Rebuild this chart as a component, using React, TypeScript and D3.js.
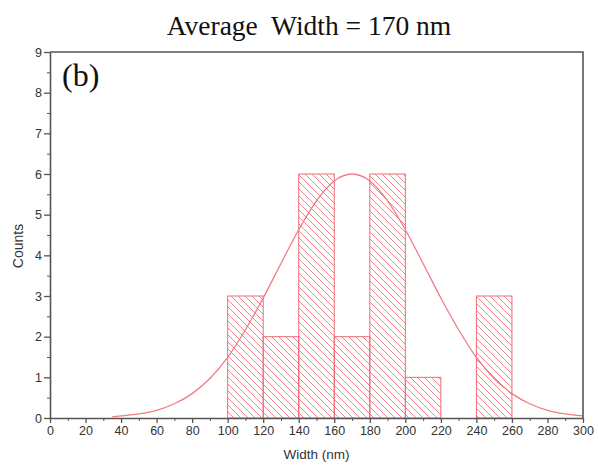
import { useEffect, useRef } from "react";
import * as d3 from "d3";

// histogram bins (nm) and counts
const binStarts = [100, 120, 140, 160, 180, 200, 220, 240];
const binWidth = 20;
const counts = [3, 2, 6, 2, 6, 1, 0, 3];

// fitted curve
const fitX = [35, 40, 50, 60, 70, 80, 90, 100, 110, 120, 130, 140, 150, 160, 170, 180, 190, 200, 210, 220, 230, 240, 250, 260, 270, 280, 290, 300];
const fitY = [0.03, 0.05, 0.1, 0.19, 0.35, 0.6, 0.97, 1.49, 2.17, 2.95, 3.8, 4.63, 5.34, 5.83, 6.0, 5.83, 5.34, 4.63, 3.8, 2.95, 2.17, 1.49, 0.97, 0.6, 0.35, 0.19, 0.1, 0.05];

const xTicks = [0, 20, 40, 60, 80, 100, 120, 140, 160, 180, 200, 220, 240, 260, 280, 300];
const yTicks = [0, 1, 2, 3, 4, 5, 6, 7, 8, 9];

export default function App() {
  const ref = useRef<SVGSVGElement>(null);
  const width = 598;
  const height = 468;

  useEffect(() => {
    if (!ref.current) return;
    const svg = d3.select(ref.current);
    svg.selectAll("*").remove();

    const margin = { top: 52, right: 15, bottom: 50, left: 50 };
    const innerWidth = width - margin.left - margin.right;
    const innerHeight = height - margin.top - margin.bottom;

    const red = "#f06a76";
    const axisColor = "#555";

    // hatch pattern
    const defs = svg.append("defs");
    const pat = defs
      .append("pattern")
      .attr("id", "hatch")
      .attr("patternUnits", "userSpaceOnUse")
      .attr("width", 7)
      .attr("height", 7);
    pat
      .append("path")
      .attr("d", "M0,0 L7,7 M-1,6 L1,8 M6,-1 L8,1")
      .attr("stroke", "#f4858e")
      .attr("stroke-width", 1);

    const g = svg
      .append("g")
      .attr("transform", `translate(${margin.left},${margin.top})`);

    const x = d3.scaleLinear().domain([0, 300]).range([0, innerWidth]);
    const y = d3.scaleLinear().domain([0, 9]).range([innerHeight, 0]);

    // bars
    const data = binStarts.map((b, i) => ({ x0: b, x1: b + binWidth, n: counts[i] }));
    g.selectAll("rect.bar")
      .data(data.filter((d) => d.n > 0))
      .join("rect")
      .attr("class", "bar")
      .attr("x", (d) => x(d.x0))
      .attr("y", (d) => y(d.n))
      .attr("width", (d) => x(d.x1) - x(d.x0))
      .attr("height", (d) => y(0) - y(d.n))
      .attr("fill", "url(#hatch)")
      .attr("stroke", red)
      .attr("stroke-width", 1);

    // fit curve
    const line = d3
      .line<number>()
      .x((d, i) => x(fitX[i]))
      .y((d) => y(d))
      .curve(d3.curveMonotoneX);
    g.append("path")
      .attr("d", line(fitY))
      .attr("fill", "none")
      .attr("stroke", "#f27c84")
      .attr("stroke-width", 1.3);

    // minor ticks
    g.append("g")
      .attr("transform", `translate(0,${innerHeight})`)
      .call(d3.axisBottom(x).tickValues(d3.range(10, 300, 20)).tickSize(3).tickFormat(() => ""))
      .call((s) => s.select(".domain").remove())
      .selectAll("line")
      .attr("stroke", axisColor);
    g.append("g")
      .call(d3.axisLeft(y).tickValues(d3.range(0.5, 9, 1)).tickSize(3).tickFormat(() => ""))
      .call((s) => s.select(".domain").remove())
      .selectAll("line")
      .attr("stroke", axisColor);

    // major axes
    const xa = g
      .append("g")
      .attr("transform", `translate(0,${innerHeight})`)
      .call(d3.axisBottom(x).tickValues(xTicks).tickSize(5).tickSizeOuter(0).tickPadding(3));
    const ya = g
      .append("g")
      .call(d3.axisLeft(y).tickValues(yTicks).tickSize(6).tickSizeOuter(0).tickPadding(2));
    [xa, ya].forEach((a) => {
      a.select(".domain").attr("stroke", axisColor).attr("stroke-width", 1.6);
      a.selectAll(".tick line").attr("stroke", axisColor).attr("stroke-width", 1.3);
      a.selectAll("text")
        .style("font-family", "Arial, 'Liberation Sans', sans-serif")
        .style("font-size", "12.5px")
        .attr("fill", "#333");
    });

    // top and right frame
    g.append("path")
      .attr("d", `M0,0 H${innerWidth} V${innerHeight}`)
      .attr("fill", "none")
      .attr("stroke", axisColor)
      .attr("stroke-width", 1.6);

    // labels
    svg.append("text")
      .attr("x", margin.left + innerWidth / 2)
      .attr("y", 459)
      .attr("text-anchor", "middle")
      .style("font-family", "Arial, 'Liberation Sans', sans-serif")
      .style("font-size", "13.5px")
      .attr("fill", "#333")
      .text("Width (nm)");

    svg.append("text")
      .attr("transform", `translate(23,246) rotate(-90)`)
      .attr("text-anchor", "middle")
      .style("font-family", "Arial, 'Liberation Sans', sans-serif")
      .style("font-size", "14px")
      .attr("fill", "#333")
      .text("Counts");

    svg.append("text")
      .attr("x", 309)
      .attr("y", 35)
      .attr("text-anchor", "middle")
      .style("font-family", "'Liberation Serif', 'Times New Roman', serif")
      .style("font-size", "27.5px")
      .style("white-space", "pre")
      .attr("fill", "#111")
      .text("Average  Width = 170 nm");

    svg.append("text")
      .attr("x", 62)
      .attr("y", 86)
      .style("font-family", "'Liberation Serif', 'Times New Roman', serif")
      .style("font-size", "32px")
      .attr("fill", "#111")
      .text("(b)");
  }, []);

  return (
    <svg
      ref={ref}
      width={width}
      height={height}
      style={{ position: "absolute", left: 0, top: 0, background: "#fff" }}
    />
  );
}
